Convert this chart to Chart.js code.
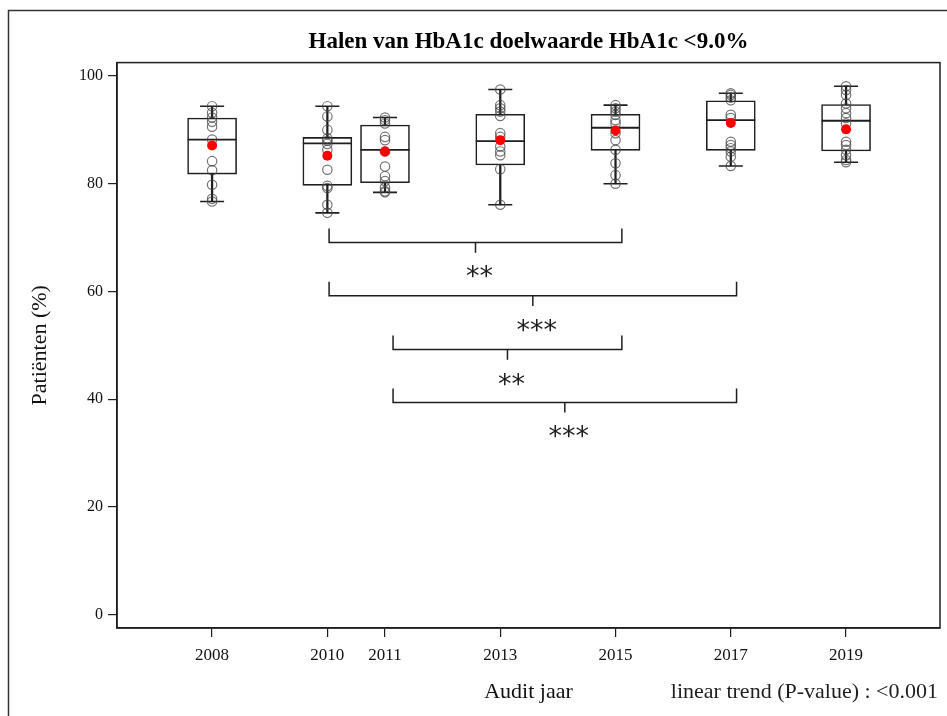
<!DOCTYPE html>
<html>
<head>
<meta charset="utf-8">
<script src="https://cdn.jsdelivr.net/npm/chart.js@4.4.1/dist/chart.umd.min.js"></script>
<style>
  html, body { margin: 0; padding: 0; background: #fff; }
  #wrap { width: 947px; height: 716px; }
</style>
</head>
<body>
<div id="wrap"><canvas id="chart" width="947" height="716"></canvas></div>
<script>
// audit years and box statistics (HbA1c < 9.0%)
const years = [2008, 2010, 2011, 2013, 2015, 2017, 2019];
const whiskerLow = [76.7, 74.6, 78.4, 76.1, 80.0, 83.3, 84.0];
const q1 = [81.8, 79.7, 80.2, 83.5, 86.2, 86.2, 86.1];
const medians = [88.2, 87.5, 86.3, 87.9, 90.4, 91.8, 91.7];
const q3 = [92.2, 88.6, 90.9, 92.9, 92.9, 95.4, 94.7];
const whiskerHigh = [94.4, 94.4, 92.3, 97.5, 94.6, 96.8, 98.1];
const means = [87.1, 85.2, 86.0, 88.1, 89.9, 91.3, 90.1];

// individual practice values per year
const points2008 = [94.4, 93.2, 92.3, 91.5, 90.6, 88.2, 84.2, 82.5, 79.8, 77.2, 76.7];
const points2010 = [94.4, 92.5, 90.0, 88.4, 88.0, 87.4, 86.3, 82.6, 79.6, 79.2, 76.1, 74.6];
const points2011 = [92.3, 91.8, 91.2, 88.7, 88.1, 86.0, 83.2, 81.4, 80.5, 79.3, 78.6, 78.4];
const points2013 = [97.5, 94.6, 94.0, 93.4, 92.6, 89.4, 88.7, 86.9, 86.0, 85.3, 82.7, 76.1];
const points2015 = [94.6, 94.0, 93.4, 92.8, 91.8, 91.2, 89.4, 88.1, 86.3, 83.8, 81.6, 80.0];
const points2017 = [96.8, 96.5, 96.0, 95.5, 92.8, 92.2, 87.8, 87.2, 86.6, 86.0, 85.0, 83.3];
const points2019 = [98.1, 97.4, 96.5, 94.9, 94.0, 93.1, 92.2, 91.2, 87.8, 87.2, 86.3, 85.3, 84.4, 84.0];
const pointsByYear = [points2008, points2010, points2011, points2013, points2015, points2017, points2019];

// significance brackets
const bracketFrom = [2010.03, 2010.03, 2011.14, 2011.14];
const bracketTo = [2015.11, 2017.1, 2015.11, 2017.1];
const bracketLevel = [69.1, 59.2, 49.2, 39.4];
const bracketStars = ["**", "***", "**", "***"];

const xTicks = [2008, 2010, 2011, 2013, 2015, 2017, 2019];
const yTicks = [0, 20, 40, 60, 80, 100];

const SERIF = "'Liberation Serif', 'Times New Roman', serif";
const INK = "#1e1e1e";

const xy = (vals) => years.map((yr, i) => ({ x: yr, y: vals[i] }));

const scatterPts = [];
pointsByYear.forEach((arr, i) => arr.forEach(v => scatterPts.push({ x: years[i], y: v })));

const bracketPts = [];
bracketFrom.forEach((a, i) => {
  const b = bracketTo[i], h = bracketLevel[i], mid = (a + b) / 2;
  bracketPts.push({ x: a, y: h + 2.6 }, { x: a, y: h }, { x: b, y: h }, { x: b, y: h + 2.6 }, { x: null, y: null });
  bracketPts.push({ x: mid, y: h }, { x: mid, y: h - 1.9 }, { x: null, y: null });
});

const framePlugin = {
  id: "frame",
  beforeDraw(chart) {
    const c = chart.ctx;
    c.save();
    c.fillStyle = "#fff";
    c.fillRect(0, 0, chart.width, chart.height);
    c.strokeStyle = "#333";
    c.lineWidth = 1.5;
    c.strokeRect(8.5, 10.5, 960, 720);
    c.restore();
  },
  afterDraw(chart) {
    const c = chart.ctx, a = chart.chartArea;
    const sx = chart.scales.x, sy = chart.scales.y;
    c.save();
    c.strokeStyle = INK;
    c.lineWidth = 1.5;
    c.strokeRect(a.left, a.top, a.right - a.left, a.bottom - a.top);
    c.fillStyle = INK;
    c.font = "27px 'DejaVu Sans', sans-serif";
    c.textAlign = "center";
    c.textBaseline = "middle";
    bracketStars.forEach((s, i) => {
      const mid = (bracketFrom[i] + bracketTo[i]) / 2;
      c.fillText(s, sx.getPixelForValue(mid) + 4, sy.getPixelForValue(bracketLevel[i]) + 36);
    });
    c.font = "22px " + SERIF;
    c.textAlign = "right";
    c.fillText("linear trend (P-value) : <0.001", 938, 692);
    c.restore();
  }
};

new Chart(document.getElementById("chart"), {
  type: "bar",
  data: {
    datasets: [
      { label: "whisker", data: years.map((yr, i) => ({ x: yr, y: [whiskerLow[i], whiskerHigh[i]] })),
        backgroundColor: INK, borderWidth: 0, barThickness: 1.6, grouped: false, order: 7 },
      { label: "box", data: years.map((yr, i) => ({ x: yr, y: [q1[i], q3[i]] })),
        backgroundColor: "#fff", borderColor: INK, borderWidth: 1.6, borderSkipped: false,
        barThickness: 49, grouped: false, order: 6 },
      { type: "line", label: "median", data: xy(medians), showLine: false,
        pointStyle: "line", pointRadius: 24.5, borderColor: INK, pointBorderWidth: 1.8, order: 5 },
      { type: "line", label: "caps", data: xy(whiskerLow).concat(xy(whiskerHigh)), showLine: false,
        pointStyle: "line", pointRadius: 12, borderColor: INK, pointBorderWidth: 1.6, order: 4 },
      { type: "line", label: "practices", data: scatterPts, showLine: false,
        pointRadius: 4.7, pointBorderWidth: 1.2, borderColor: "rgba(70,70,70,0.75)",
        pointBackgroundColor: "rgba(0,0,0,0)", order: 3 },
      { type: "line", label: "mean", data: xy(means), showLine: false,
        pointRadius: 5, pointBorderWidth: 0, pointBackgroundColor: "#ff0000", borderColor: "#ff0000", order: 2 },
      { type: "line", label: "brackets", data: bracketPts, spanGaps: false,
        pointRadius: 0, borderColor: INK, borderWidth: 1.5, order: 1 }
    ]
  },
  options: {
    responsive: false,
    animation: false,
    events: [],
    layout: { autoPadding: false, padding: { left: 0, right: 7, top: 0, bottom: 0 } },
    plugins: {
      legend: { display: false },
      tooltip: { enabled: false },
      title: {
        display: true, fullSize: false,
        text: "Halen van HbA1c doelwaarde HbA1c <9.0%",
        color: "#000", font: { family: SERIF, size: 23, weight: "bold" },
        padding: { top: 28, bottom: 7 }
      }
    },
    scales: {
      x: {
        type: "linear", min: 2006.35, max: 2020.63, offset: false,
        afterBuildTicks: s => { s.ticks = xTicks.map(v => ({ value: v })); },
        afterFit: s => { s.height = 88; s.paddingLeft = 0; s.paddingRight = 0; },
        ticks: { callback: v => String(v), color: "#111", font: { family: SERIF, size: 17 }, padding: 8, maxRotation: 0, autoSkip: false },
        grid: { drawOnChartArea: false, drawTicks: true, tickLength: 9, color: INK, lineWidth: 1.2, offset: false },
        border: { display: true, color: INK, width: 1.5 },
        title: { display: true, text: "Audit jaar", color: "#111", font: { family: SERIF, size: 22 }, padding: { top: 0, bottom: 10.8 } }
      },
      y: {
        type: "linear", min: -2.5, max: 102.5,
        afterBuildTicks: s => { s.ticks = yTicks.map(v => ({ value: v })); },
        afterFit: s => { s.width = 117; s.paddingTop = 0; s.paddingBottom = 0; },
        ticks: { callback: v => String(v), color: "#111", font: { family: SERIF, size: 16 }, padding: 5 },
        grid: { drawOnChartArea: false, drawTicks: true, tickLength: 9, color: INK, lineWidth: 1.2 },
        border: { display: true, color: INK, width: 1.5 },
        title: { display: true, text: "Patiënten (%)", color: "#111", font: { family: SERIF, size: 22 }, padding: { top: 26.8, bottom: 0 } }
      }
    }
  },
  plugins: [framePlugin]
});
</script>
</body>
</html>
